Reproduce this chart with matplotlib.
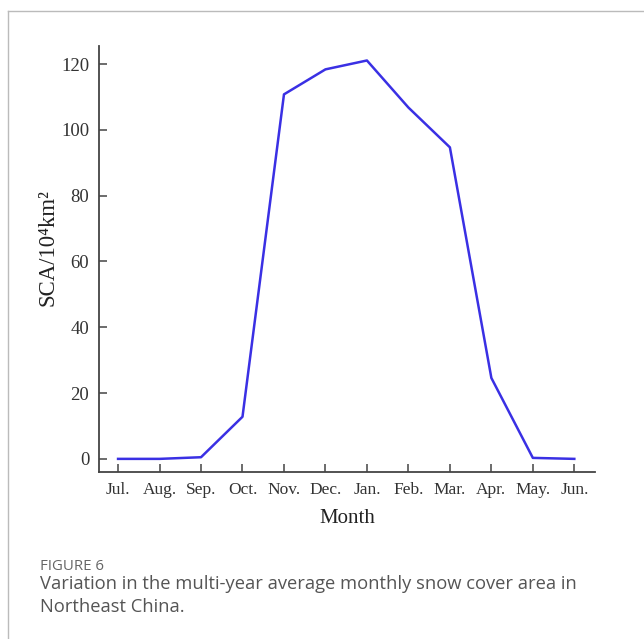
import matplotlib.pyplot as plt
from matplotlib.lines import Line2D

months = ['Jul.', 'Aug.', 'Sep.', 'Oct.', 'Nov.', 'Dec.', 'Jan.',
          'Feb.', 'Mar.', 'Apr.', 'May.', 'Jun.']
sca = [0.0, 0.0, 0.5, 12.8, 110.8, 118.4, 121.1, 106.8, 94.7, 24.6, 0.3, 0.0]
y_ticks = [0, 20, 40, 60, 80, 100, 120]

serif = ['Liberation Serif', 'DejaVu Serif']

fig = plt.figure(figsize=(6.44, 6.39), dpi=100)
ax = fig.add_axes([0.1537, 0.2613, 0.7703, 0.6667])

ax.plot(range(len(months)), sca, color='#3a30e4', lw=1.8)

ax.set_xlim(-0.46, 11.5)
ax.set_ylim(-4, 125.5)
ax.set_xticks(range(len(months)))
ax.set_xticklabels(months)
ax.set_yticks(y_ticks)

for side in ['top', 'right']:
    ax.spines[side].set_visible(False)
for side in ['left', 'bottom']:
    ax.spines[side].set_color('#444444')
    ax.spines[side].set_linewidth(1.3)

ax.tick_params(direction='in', length=6, width=1.1, color='#444444',
               labelcolor='#333333', pad=7)
ax.tick_params(axis='x', labelsize=12.5)
ax.tick_params(axis='y', labelsize=13.5)
for lab in ax.get_xticklabels() + ax.get_yticklabels():
    lab.set_family(serif)

ax.set_xlabel('Month', family=serif, fontsize=15, color='#222222', labelpad=8)
ax.set_ylabel('SCA/10⁴km²', family=serif, fontsize=16.4, color='#222222')
ax.yaxis.label.set_verticalalignment('center')
ax.yaxis.set_label_coords(-0.103, 0.528)

# frame lines around the figure panel
fig.add_artist(Line2D([8 / 644, 1], [1 - 11 / 639, 1 - 11 / 639], color='#bbbbbb', lw=1))
fig.add_artist(Line2D([8 / 644, 8 / 644], [0, 1 - 11 / 639], color='#bbbbbb', lw=1))

fig.text(40 / 644, 1 - 566 / 639, 'FIGURE 6', family='Open Sans', fontsize=10.8,
         color='#666666', va='center')
fig.text(40 / 644, 1 - 584 / 639,
         'Variation in the multi-year average monthly snow cover area in',
         family='Open Sans', fontsize=13.2, color='#555555', va='center')
fig.text(40 / 644, 1 - 607 / 639, 'Northeast China.',
         family='Open Sans', fontsize=13.2, color='#555555', va='center')

fig.savefig('out.png', dpi=100)
